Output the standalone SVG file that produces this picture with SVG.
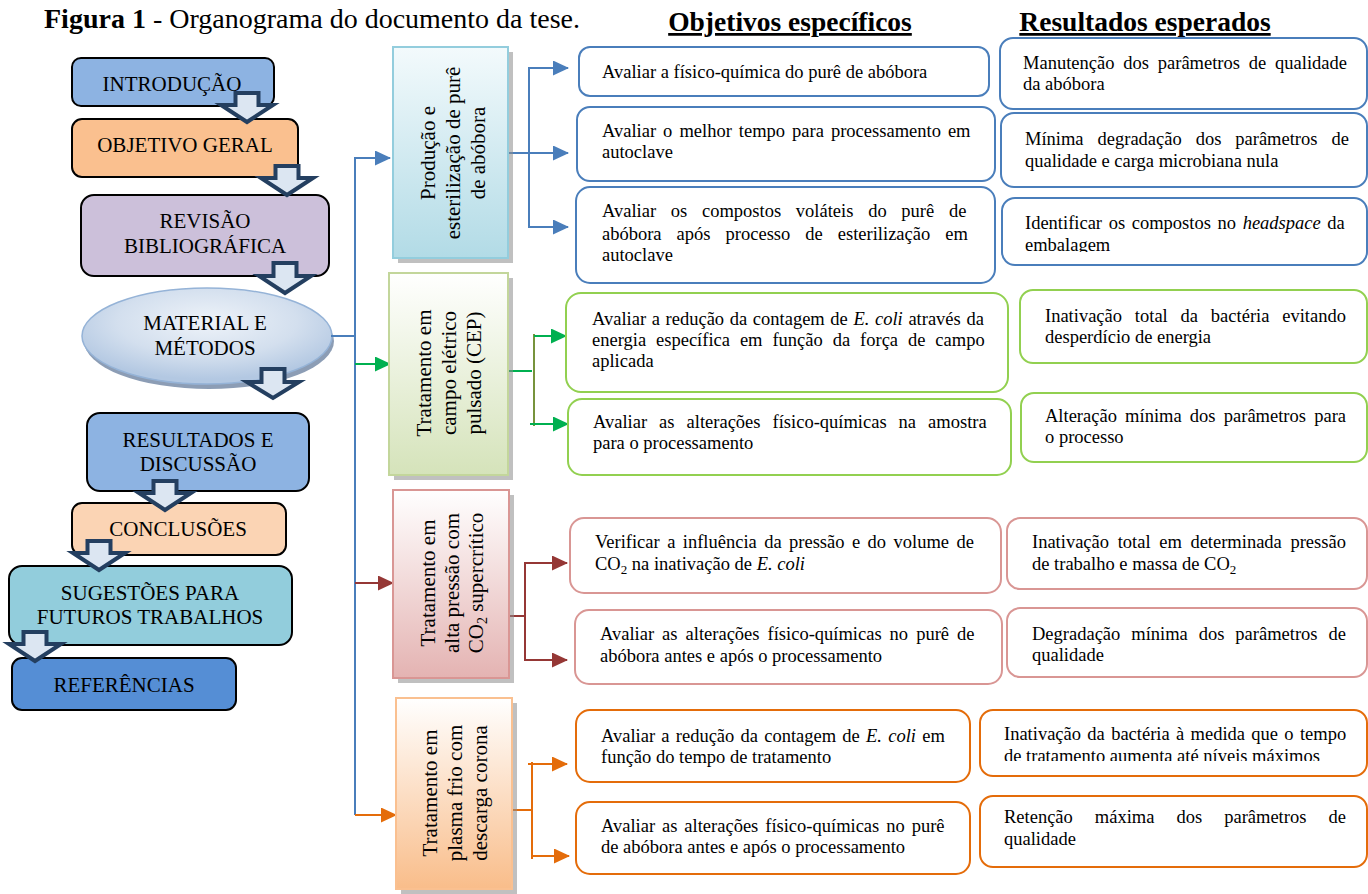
<svg xmlns="http://www.w3.org/2000/svg" width="1368" height="894" viewBox="0 0 1368 894">
<style>
text{font-family:"Liberation Serif","Times New Roman",serif;fill:#000}
.t{font-size:18.5px}
.l{font-size:21px;text-anchor:middle}
.v{font-size:21px;text-anchor:middle}
.hd{font-size:27.5px;font-weight:bold;text-anchor:middle;text-decoration:underline}
.lb{stroke:#000;stroke-width:2}
.bo{fill:#fff;stroke:#4A7EBB;stroke-width:2}
.go{fill:#fff;stroke:#92D050;stroke-width:2}
.ro{fill:#fff;stroke:#D99694;stroke-width:2}
.oo{fill:#fff;stroke:#E46C0A;stroke-width:2}
.ba{fill:#DCE6F2;stroke:#243F60;stroke-width:4;stroke-linejoin:miter}
.sh{fill:#8C8C8C;opacity:0.55}
.cb{stroke:#4A7EBB;stroke-width:2;fill:none}
.cg{stroke:#00B050;stroke-width:2;fill:none}
.cr{stroke:#953735;stroke-width:2;fill:none}
.co{stroke:#E46C0A;stroke-width:2;fill:none}
</style>
<defs>
<marker id="mb" markerUnits="userSpaceOnUse" markerWidth="16" markerHeight="15" refX="15" refY="7.5" orient="auto"><path d="M0,0 L16,7.5 L0,15 z" fill="#4A7EBB"/></marker>
<marker id="mg" markerUnits="userSpaceOnUse" markerWidth="16" markerHeight="15" refX="15" refY="7.5" orient="auto"><path d="M0,0 L16,7.5 L0,15 z" fill="#00B050"/></marker>
<marker id="mr" markerUnits="userSpaceOnUse" markerWidth="16" markerHeight="15" refX="15" refY="7.5" orient="auto"><path d="M0,0 L16,7.5 L0,15 z" fill="#953735"/></marker>
<marker id="mo" markerUnits="userSpaceOnUse" markerWidth="16" markerHeight="15" refX="15" refY="7.5" orient="auto"><path d="M0,0 L16,7.5 L0,15 z" fill="#E46C0A"/></marker>
<linearGradient id="gp" x1="0" y1="0" x2="0" y2="1"><stop offset="0" stop-color="#F3FAFC"/><stop offset="1" stop-color="#B2DBE6"/></linearGradient>
<linearGradient id="gc" x1="0" y1="0" x2="0" y2="1"><stop offset="0" stop-color="#FFFFFF"/><stop offset="1" stop-color="#D5E3BA"/></linearGradient>
<linearGradient id="gr" x1="0" y1="0" x2="0" y2="1"><stop offset="0" stop-color="#FFFFFF"/><stop offset="1" stop-color="#E4B3B2"/></linearGradient>
<linearGradient id="go" x1="0" y1="0" x2="0" y2="1"><stop offset="0" stop-color="#FFFFFF"/><stop offset="1" stop-color="#F9BD8A"/></linearGradient>
<radialGradient id="ge" cx="0.5" cy="0.35" r="0.6"><stop offset="0" stop-color="#EEF3F9"/><stop offset="0.6" stop-color="#D3DFEE"/><stop offset="1" stop-color="#B3C8E2"/></radialGradient>
<clipPath id="c1"><rect x="1000" y="198" width="368" height="54"/></clipPath>
<clipPath id="c2"><rect x="980" y="710" width="388" height="51"/></clipPath>
</defs>
<rect width="1368" height="894" fill="#fff"/>

<g id="title">
<text x="44" y="28" font-size="28"><tspan font-weight="bold">Figura 1</tspan> - Organograma do documento da tese.</text>
<text class="hd" x="790" y="31">Objetivos específicos</text>
<text class="hd" x="1145" y="31">Resultados esperados</text>
</g>

<g id="introducao"><rect class="lb" x="72" y="58" width="202" height="48" rx="9" fill="#8DB3E2"/><text class="l" x="172" y="91">INTRODUÇÃO</text></g>
<g id="objetivo-geral"><rect class="lb" x="72" y="119" width="226" height="58" rx="10" fill="#FAC08F"/><text class="l" x="185" y="152">OBJETIVO GERAL</text></g>
<g id="revisao"><rect class="lb" x="81" y="195" width="248" height="81" rx="13" fill="#CCC0DA"/><text class="l" x="205" y="228">REVISÃO</text><text class="l" x="205" y="253">BIBLIOGRÁFICA</text></g>
<g id="material"><ellipse cx="209" cy="341" rx="125" ry="48" fill="#8C9DB5"/><ellipse cx="207" cy="336" rx="125" ry="48" fill="url(#ge)" stroke="#95B3D7" stroke-width="1.5"/><text class="l" x="205" y="330">MATERIAL E</text><text class="l" x="205" y="355">MÉTODOS</text></g>
<g id="resultados"><rect class="lb" x="87" y="413" width="222" height="78" rx="13" fill="#8DB3E2"/><text class="l" x="198" y="447">RESULTADOS E</text><text class="l" x="198" y="471">DISCUSSÃO</text></g>
<g id="conclusoes"><rect class="lb" x="72" y="503" width="214" height="52" rx="10" fill="#FBD4B4"/><text class="l" x="178" y="536">CONCLUSÕES</text></g>
<g id="sugestoes"><rect class="lb" x="9" y="566" width="283" height="79" rx="13" fill="#92CDDC"/><text class="l" x="150" y="600">SUGESTÕES PARA</text><text class="l" x="150" y="624">FUTUROS TRABALHOS</text></g>
<g id="referencias"><rect class="lb" x="12" y="658" width="224" height="52" rx="10" fill="#558ED5"/><text class="l" x="124" y="692">REFERÊNCIAS</text></g>

<g id="block-arrows">
<polygon class="ba" points="235.5,93 258.5,93 258.5,105 273,105 247,122 221,105 235.5,105"/>
<polygon class="ba" points="275.5,166 298.5,166 298.5,178 313,178 287,195 261,178 275.5,178"/>
<polygon class="ba" points="273.5,263 296.5,263 296.5,276 311,276 285,293 259,276 273.5,276"/>
<polygon class="ba" points="261.5,369 284.5,369 284.5,382 299,382 273,398 247,382 261.5,382"/>
<polygon class="ba" points="153.5,481 176.5,481 176.5,493 191,493 165,510 139,493 153.5,493"/>
<polygon class="ba" points="87.5,541 110.5,541 110.5,553 125,553 99,570 73,553 87.5,553"/>
<polygon class="ba" points="23.5,632 46.5,632 46.5,644 61,644 35,661 9,644 23.5,644"/>
</g>

<g id="connectors">
<polyline class="cb" points="355,815 355,158 390,158" marker-end="url(#mb)"/>
<line class="cb" x1="331" y1="336" x2="355" y2="336"/>
<line class="cg" x1="355" y1="364" x2="390" y2="364" marker-end="url(#mg)"/>
<line class="cr" x1="355" y1="583" x2="393" y2="583" marker-end="url(#mr)"/>
<line class="co" x1="355" y1="815" x2="396" y2="815" marker-end="url(#mo)"/>

<line class="cb" x1="508" y1="153" x2="568" y2="153" marker-end="url(#mb)"/>
<line class="cb" x1="529" y1="67" x2="529" y2="228"/>
<line class="cb" x1="529" y1="68" x2="568" y2="68" marker-end="url(#mb)"/>
<line class="cb" x1="529" y1="227" x2="568" y2="227" marker-end="url(#mb)"/>

<line class="cg" x1="508" y1="371" x2="532" y2="371"/>
<line stroke="#77933C" stroke-width="2" x1="534" y1="334" x2="534" y2="426"/>
<line class="cg" x1="534" y1="336" x2="566" y2="336" marker-end="url(#mg)"/>
<line class="cg" x1="530" y1="424" x2="568" y2="424" marker-end="url(#mg)"/>

<line class="cr" x1="505" y1="616" x2="525" y2="616"/>
<line class="cr" x1="525" y1="562" x2="525" y2="661"/>
<line class="cr" x1="525" y1="563" x2="567" y2="563" marker-end="url(#mr)"/>
<line class="cr" x1="525" y1="660" x2="567" y2="660" marker-end="url(#mr)"/>

<line class="co" x1="512" y1="810" x2="532" y2="810"/>
<line class="co" x1="532" y1="762" x2="532" y2="859"/>
<line class="co" x1="528" y1="764" x2="567" y2="764" marker-end="url(#mo)"/>
<line class="co" x1="532" y1="856" x2="569" y2="856" marker-end="url(#mo)"/>
</g>

<g id="cat-producao"><rect class="sh" x="398" y="52" width="115" height="211"/><rect x="393" y="47" width="115" height="211" fill="url(#gp)" stroke="#93CDDD" stroke-width="2"/>
<text class="v" transform="rotate(-90)" x="-153" y="435">Produção e</text><text class="v" transform="rotate(-90)" x="-153" y="460">esterilização de purê</text><text class="v" transform="rotate(-90)" x="-153" y="485">de abóbora</text></g>
<g id="cat-cep"><rect class="sh" x="394" y="278" width="119" height="202"/><rect x="389" y="273" width="119" height="202" fill="url(#gc)" stroke="#C3D69B" stroke-width="2"/>
<text class="v" transform="rotate(-90)" x="-373" y="431">Tratamento em</text><text class="v" transform="rotate(-90)" x="-373" y="456">campo elétrico</text><text class="v" transform="rotate(-90)" x="-373" y="481">pulsado (CEP)</text></g>
<g id="cat-co2"><rect class="sh" x="398" y="495" width="116" height="188"/><rect x="393" y="490" width="116" height="188" fill="url(#gr)" stroke="#D99694" stroke-width="2"/>
<text class="v" transform="rotate(-90)" x="-583" y="435">Tratamento em</text><text class="v" transform="rotate(-90)" x="-583" y="459">alta pressão com</text><text class="v" transform="rotate(-90)" x="-583" y="483">CO<tspan font-size="14" dy="4">2</tspan><tspan dy="-4"> supercrítico</tspan></text></g>
<g id="cat-plasma"><rect class="sh" x="401" y="703" width="116" height="191"/><rect x="396" y="698" width="116" height="191" fill="url(#go)" stroke="#FAC090" stroke-width="2"/>
<text class="v" transform="rotate(-90)" x="-793" y="437">Tratamento em</text><text class="v" transform="rotate(-90)" x="-793" y="462">plasma frio com</text><text class="v" transform="rotate(-90)" x="-793" y="487">descarga corona</text></g>

<g id="obj-p1"><rect class="bo" x="579" y="47" width="410" height="49" rx="11"/><text class="t" x="602" y="78">Avaliar a físico-química do purê de abóbora</text></g>
<g id="obj-p2"><rect class="bo" x="577" y="107" width="418" height="74" rx="13"/><text class="t" x="602" y="137" word-spacing="2.4">Avaliar o melhor tempo para processamento em</text><text class="t" x="602" y="158">autoclave</text></g>
<g id="obj-p3"><rect class="bo" x="576" y="187" width="419" height="96" rx="14"/><text class="t" x="602" y="217" word-spacing="10.1">Avaliar os compostos voláteis do purê de</text><text class="t" x="602" y="240" word-spacing="10.4">abóbora após processo de esterilização em</text><text class="t" x="602" y="261">autoclave</text></g>

<g id="res-p1"><rect class="bo" x="1000" y="38" width="367" height="71" rx="13"/><text class="t" x="1023" y="69" word-spacing="4.2">Manutenção dos parâmetros de qualidade</text><text class="t" x="1023" y="90">da abóbora</text></g>
<g id="res-p2"><rect class="bo" x="1001" y="113" width="366" height="74" rx="13"/><text class="t" x="1025" y="145" word-spacing="9.3">Mínima degradação dos parâmetros de</text><text class="t" x="1025" y="167">qualidade e carga microbiana nula</text></g>
<g id="res-p3"><rect class="bo" x="1002" y="198" width="365" height="67" rx="13"/><text class="t" x="1025" y="229" word-spacing="2">Identificar os compostos no <tspan font-style="italic">headspace</tspan> da</text><text class="t" x="1025" y="251" clip-path="url(#c1)">embalagem</text></g>

<g id="obj-c1"><rect class="go" x="566" y="293" width="442" height="99" rx="15"/><text class="t" x="592" y="325" word-spacing="1">Avaliar a redução da contagem de <tspan font-style="italic">E. coli</tspan> através da</text><text class="t" x="592" y="346" word-spacing="5.3">energia específica em função da força de campo</text><text class="t" x="592" y="367">aplicada</text></g>
<g id="obj-c2"><rect class="go" x="568" y="399" width="443" height="76" rx="14"/><text class="t" x="593" y="428" word-spacing="7.4">Avaliar as alterações físico-químicas na amostra</text><text class="t" x="593" y="449">para o processamento</text></g>
<g id="res-c1"><rect class="go" x="1020" y="290" width="347" height="73" rx="13"/><text class="t" x="1045" y="322" word-spacing="8.2">Inativação total da bactéria evitando</text><text class="t" x="1045" y="343">desperdício de energia</text></g>
<g id="res-c2"><rect class="go" x="1021" y="393" width="346" height="69" rx="13"/><text class="t" x="1045" y="422" word-spacing="3.6">Alteração mínima dos parâmetros para</text><text class="t" x="1045" y="443">o processo</text></g>

<g id="obj-r1"><rect class="ro" x="570" y="518" width="431" height="75" rx="14"/><text class="t" x="595" y="548" word-spacing="2.8">Verificar a influência da pressão e do volume de</text><text class="t" x="595" y="570">CO<tspan font-size="13" dy="4">2</tspan><tspan dy="-4"> na inativação de </tspan><tspan font-style="italic">E. coli</tspan></text></g>
<g id="obj-r2"><rect class="ro" x="575" y="610" width="427" height="74" rx="14"/><text class="t" x="600" y="640" word-spacing="3.4">Avaliar as alterações físico-químicas no purê de</text><text class="t" x="600" y="662">abóbora antes e após o processamento</text></g>
<g id="res-r1"><rect class="ro" x="1007" y="518" width="360" height="71" rx="13"/><text class="t" x="1032" y="548" word-spacing="4">Inativação total em determinada pressão</text><text class="t" x="1032" y="570">de trabalho e massa de CO<tspan font-size="13" dy="4">2</tspan></text></g>
<g id="res-r2"><rect class="ro" x="1007" y="608" width="360" height="69" rx="13"/><text class="t" x="1032" y="640" word-spacing="6.3">Degradação mínima dos parâmetros de</text><text class="t" x="1032" y="661">qualidade</text></g>

<g id="obj-o1"><rect class="oo" x="576" y="710" width="394" height="72" rx="14"/><text class="t" x="601" y="742" word-spacing="1.6">Avaliar a redução da contagem de <tspan font-style="italic">E. coli</tspan> em</text><text class="t" x="601" y="763">função do tempo de tratamento</text></g>
<g id="obj-o2"><rect class="oo" x="576" y="802" width="394" height="72" rx="14"/><text class="t" x="601" y="832" word-spacing="2.3">Avaliar as alterações físico-químicas no purê</text><text class="t" x="601" y="853">de abóbora antes e após o processamento</text></g>
<g id="res-o1"><rect class="oo" x="980" y="710" width="387" height="66" rx="13"/><text class="t" x="1004" y="740" word-spacing="1.7">Inativação da bactéria à medida que o tempo</text><text class="t" x="1004" y="762" clip-path="url(#c2)">de tratamento aumenta até níveis máximos</text></g>
<g id="res-o2"><rect class="oo" x="980" y="796" width="387" height="71" rx="13"/><text class="t" x="1004" y="823" word-spacing="17.4">Retenção máxima dos parâmetros de</text><text class="t" x="1004" y="845">qualidade</text></g>
</svg>
